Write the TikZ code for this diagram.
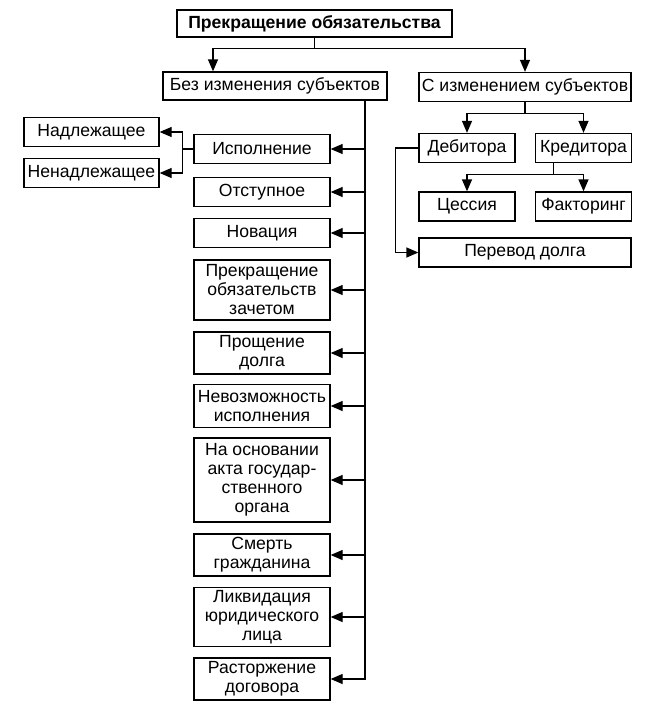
\documentclass[tikz,border=0pt]{standalone}
\usepackage{fontspec}
\setmainfont{Liberation Sans}
\usetikzlibrary{arrows.meta}

\begin{document}
\begin{tikzpicture}[
    x=1pt, y=-1pt,
    >={Triangle[length=12pt,width=10pt]},
    line width=1.3pt,
    box/.style={draw, inner sep=0pt, align=center, font=\fontsize{17.6}{19}\selectfont},
    colBox/.style={box, minimum width=136pt},
    sideBox/.style={box, minimum width=96pt, minimum height=29pt}
]
\useasboundingbox (0,0) rectangle (645,707);

\node[box, font=\fontsize{17.6}{19}\selectfont\bfseries, minimum width=275pt, minimum height=27pt] (root) at (314.5,23.5) {Прекращение обязательства};

\node[box, minimum width=224pt, minimum height=28pt] (grpWithout) at (275,86) {Без изменения субъектов};
\node[box, minimum width=212pt, minimum height=29pt] (grpWith) at (525,87) {С изменением субъектов};

\draw[->] (root.south) -- ++(0,11) -| ([xshift=-62pt]grpWithout.north);
\draw[->] (root.south) -- ++(0,11) -| (grpWith.north);

% -- Without change of parties --
\node[colBox, minimum height=29pt] (perform) at (262,149) {Исполнение};
\node[colBox, minimum height=29pt] (compens) at (262,192) {Отступное};
\node[colBox, minimum height=29pt] (novation) at (262,233) {Новация};
\node[colBox, minimum height=60pt] (setoff) at (262,290) {Прекращение\\обязательств\\зачетом};
\node[colBox, minimum height=42pt] (forgive) at (262,353) {Прощение\\долга};
\node[colBox, minimum height=43pt] (impossible) at (262,406) {Невозможность\\исполнения};
\node[colBox, minimum height=84pt] (stateAct) at (262,480) {На основании\\акта государ-\\ственного\\органа};
\node[colBox, minimum height=42pt] (death) at (262,555) {Смерть\\гражданина};
\node[colBox, minimum height=59pt] (liquid) at (262,617) {Ликвидация\\юридического\\лица};
\node[colBox, minimum height=42pt] (termin) at (262,679) {Расторжение\\договора};

\coordinate (spine) at ([xshift=90pt]grpWithout.south);
\draw[->] (spine) |- (perform.east);
\draw[->] (spine) |- (compens.east);
\draw[->] (spine) |- (novation.east);
\draw[->] (spine) |- (setoff.east);
\draw[->] (spine) |- (forgive.east);
\draw[->] (spine) |- (impossible.east);
\draw[->] (spine) |- (stateAct.east);
\draw[->] (spine) |- (death.east);
\draw[->] (spine) |- (liquid.east);
\draw[->] (spine) |- (termin.east);

\node[box, minimum width=135pt, minimum height=29pt] (proper) at (91.5,132) {Надлежащее};
\node[box, minimum width=135pt, minimum height=29pt] (improper) at (91.5,173) {Ненадлежащее};
\draw[->] (perform.west) -- ++(-11,0) |- (proper.east);
\draw[->] (perform.west) -- ++(-11,0) |- (improper.east);

% -- With change of parties --
\node[sideBox] (debtor) at (467,148) {Дебитора};
\node[sideBox] (creditor) at (583.5,148) {Кредитора};
\node[sideBox] (cession) at (467,206.5) {Цессия};
\node[sideBox] (factoring) at (583.5,206.5) {Факторинг};
\node[box, minimum width=212pt, minimum height=29pt] (transfer) at (525,252.5) {Перевод долга};

\draw[->] (grpWith.south) -- ++(0,11) -| (debtor.north);
\draw[->] (grpWith.south) -- ++(0,11) -| (creditor.north);
\draw[->] ([xshift=-30pt]creditor.south) -- ++(0,11) -| (cession.north);
\draw[->] ([xshift=-30pt]creditor.south) -- ++(0,11) -| (factoring.north);
\draw[->] (debtor.west) -- ++(-23,0) |- (transfer.west);

\end{tikzpicture}
\end{document}
